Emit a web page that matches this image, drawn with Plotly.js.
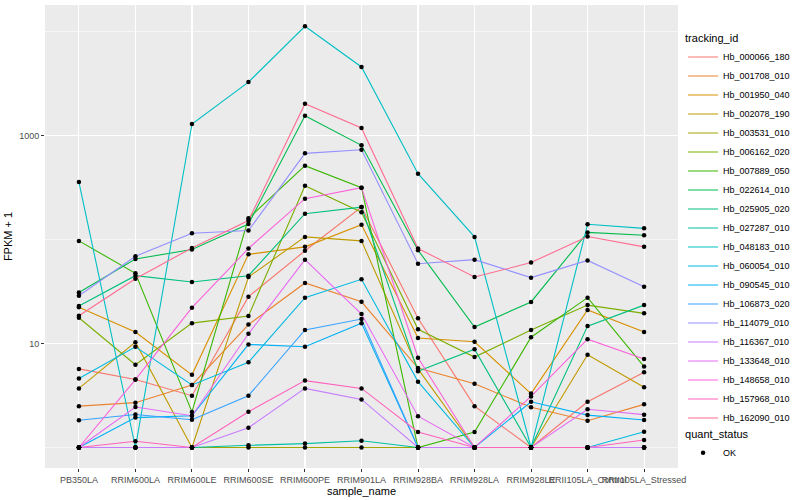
<!DOCTYPE html>
<html>
<head>
<meta charset="utf-8">
<script src="https://cdn.plot.ly/plotly-3.0.1.min.js"></script>
<style>html,body{margin:0;padding:0;background:#fff;}#chart{width:800px;height:500px;}</style>
</head>
<body>
<div id="chart"></div>
<script>
// sample names (x categories)
const samples = ["PB350LA","RRIM600LA","RRIM600LE","RRIM600SE","RRIM600PE","RRIM901LA","RRIM928BA","RRIM928LA","RRIM928LE","RRII105LA_Control","RRII105LA_Stressed"];

// tracking ids (series)
const trackingIds = ["Hb_000066_180","Hb_001708_010","Hb_001950_040","Hb_002078_190","Hb_003531_010","Hb_006162_020","Hb_007889_050","Hb_022614_010","Hb_025905_020","Hb_027287_010","Hb_048183_010","Hb_060054_010","Hb_090545_010","Hb_106873_020","Hb_114079_010","Hb_116367_010","Hb_133648_010","Hb_148658_010","Hb_157968_010","Hb_162090_010"];

// FPKM + 1 values, one array per tracking id (order follows samples)
const Hb_000066_180 = [5.7, 4.5, 3.15, 28.2, 78, 205, 17.5, 2.5, 1, 2.75, 5.3];
const Hb_001708_010 = [2.5, 2.7, 4.0, 15.2, 38.2, 25.2, 5.8, 4.1, 2.44, 1.81, 2.6];
const Hb_001950_040 = [22.3, 12.9, 5.0, 72, 85, 139, 11.3, 10.4, 3.3, 21, 12.9];
const Hb_002078_190 = [3.7, 10.3, 1, 43.6, 106, 97, 5.7, 1, 1, 7.8, 3.8];
const Hb_003531_010 = [1, 1, 1, 1, 1, 1, 1, 1, 1, 1, 1];
const Hb_006162_020 = [17.7, 6.25, 15.7, 18.4, 329, 183, 13.7, 7.4, 13.5, 23.4, 19.5];
const Hb_007889_050 = [97, 47.3, 2.2, 160, 513, 315, 1, 1.41, 11.5, 27.6, 6.0];
const Hb_022614_010 = [31, 65, 80, 141, 1550, 805, 79, 14.4, 25.1, 117, 110];
const Hb_025905_020 = [22.9, 44.9, 39, 44.9, 177, 205, 5.4, 8.8, 1, 14.7, 23.4];
const Hb_027287_010 = [1, 1, 1, 1.05, 1.09, 1.16, 1, 1, 1, 1, 1];
const Hb_048183_010 = [357, 1, 1290, 3265, 11220, 4560, 429, 106, 1, 140, 128];
const Hb_060054_010 = [4.6, 9.3, 4.0, 6.6, 27.6, 41.4, 4.3, 1, 1, 1, 1.42];
const Hb_090545_010 = [1, 1.94, 2.02, 9.8, 9.3, 15.7, 1, 1, 2.75, 2.05, 1.84];
const Hb_106873_020 = [1.83, 2.08, 1.85, 3.15, 13.5, 17.2, 1, 1, 1, 1, 1];
const Hb_114079_010 = [28.8, 69, 115, 122, 674, 730, 58.5, 64, 43, 63, 35.2];
const Hb_116367_010 = [1, 1, 1, 1.55, 3.7, 2.9, 1, 1, 1, 1, 1];
const Hb_133648_010 = [1, 2.45, 2.02, 12.4, 64, 19.2, 2.0, 1, 1, 2.33, 2.07];
const Hb_148658_010 = [1, 4.5, 22.1, 82, 247, 315, 7.3, 1, 3.1, 11.0, 7.1];
const Hb_157968_010 = [1, 1.15, 1, 2.21, 4.4, 3.7, 1.41, 1, 1, 1, 1.18];
const Hb_162090_010 = [18.5, 42, 83, 152, 2023, 1181, 82, 43.6, 60, 107, 85];

const seriesValues = [Hb_000066_180, Hb_001708_010, Hb_001950_040, Hb_002078_190, Hb_003531_010, Hb_006162_020, Hb_007889_050, Hb_022614_010, Hb_025905_020, Hb_027287_010, Hb_048183_010, Hb_060054_010, Hb_090545_010, Hb_106873_020, Hb_114079_010, Hb_116367_010, Hb_133648_010, Hb_148658_010, Hb_157968_010, Hb_162090_010];

const colors = ["#F8766D","#EA8331","#D89000","#C09B00","#A3A500","#7CAE00","#39B600","#00BB4E","#00BF7D","#00C1A3","#00BFC4","#00BAE0","#00B0F6","#35A2FF","#9590FF","#C77CFF","#E76BF3","#FA62DB","#FF62BC","#FF6C91"];

const yTickVals = [10, 1000];
const yTickText = ["10", "1000"];
const yMinorVals = [1, 100, 10000];

const FONT = "Liberation Sans, Arial, Helvetica, sans-serif";

const traces = [];
trackingIds.forEach((id, i) => {
  traces.push({
    type: "scatter", mode: "lines", name: id,
    x: samples, y: seriesValues[i],
    line: {color: colors[i], width: 1.1},
    legend: "legend", hoverinfo: "skip"
  });
});

// all points, quant_status = OK
const px = [], py = [];
seriesValues.forEach(vals => vals.forEach((v, j) => { px.push(samples[j]); py.push(v); }));
traces.push({
  type: "scatter", mode: "markers", name: "OK",
  x: px, y: py,
  marker: {color: "#000000", size: 4.5},
  legend: "legend2", hoverinfo: "skip"
});

const layout = {
  width: 800, height: 500,
  margin: {l: 45, r: 109, t: 5, b: 32},
  paper_bgcolor: "#FFFFFF",
  plot_bgcolor: "#EBEBEB",
  font: {family: FONT, size: 9, color: "#000000"},
  showlegend: true,
  xaxis: {
    type: "category",
    range: [-0.6, 10.6],
    tickangle: 0,
    showgrid: true, gridcolor: "#FFFFFF", gridwidth: 1.1,
    zeroline: false, showline: false,
    ticks: "outside", ticklen: 3, tickcolor: "#333333", tickwidth: 1,
    tickfont: {family: FONT, size: 9, color: "#4D4D4D"},
    title: {text: "sample_name", font: {family: FONT, size: 11, color: "#000000"}, standoff: 3},
    fixedrange: true
  },
  yaxis: {
    type: "log",
    range: [-0.197, 4.255],
    tickmode: "array", tickvals: yTickVals, ticktext: yTickText,
    showgrid: true, gridcolor: "#FFFFFF", gridwidth: 1.1,
    minor: {tickmode: "array", tickvals: yMinorVals, showgrid: true, gridcolor: "#FFFFFF", gridwidth: 0.55, ticks: ""},
    zeroline: false, showline: false,
    ticks: "outside", ticklen: 3, tickcolor: "#333333", tickwidth: 1,
    tickfont: {family: FONT, size: 9, color: "#4D4D4D"},
    title: {text: "FPKM + 1", font: {family: FONT, size: 11, color: "#000000"}, standoff: 4},
    fixedrange: true
  },
  legend: {
    title: {text: "tracking_id", font: {family: FONT, size: 11, color: "#000000"}},
    font: {family: FONT, size: 9, color: "#000000"},
    x: 1.008, xanchor: "left", y: 0.95, yanchor: "top",
    bgcolor: "rgba(0,0,0,0)", borderwidth: 0,
    traceorder: "normal", itemwidth: 30
  },
  legend2: {
    title: {text: "quant_status", font: {family: FONT, size: 11, color: "#000000"}},
    font: {family: FONT, size: 9, color: "#000000"},
    x: 1.008, xanchor: "left", y: 0.095, yanchor: "top",
    bgcolor: "rgba(0,0,0,0)", borderwidth: 0
  }
};

Plotly.newPlot("chart", traces, layout, {staticPlot: true, displayModeBar: false});
</script>
</body>
</html>
